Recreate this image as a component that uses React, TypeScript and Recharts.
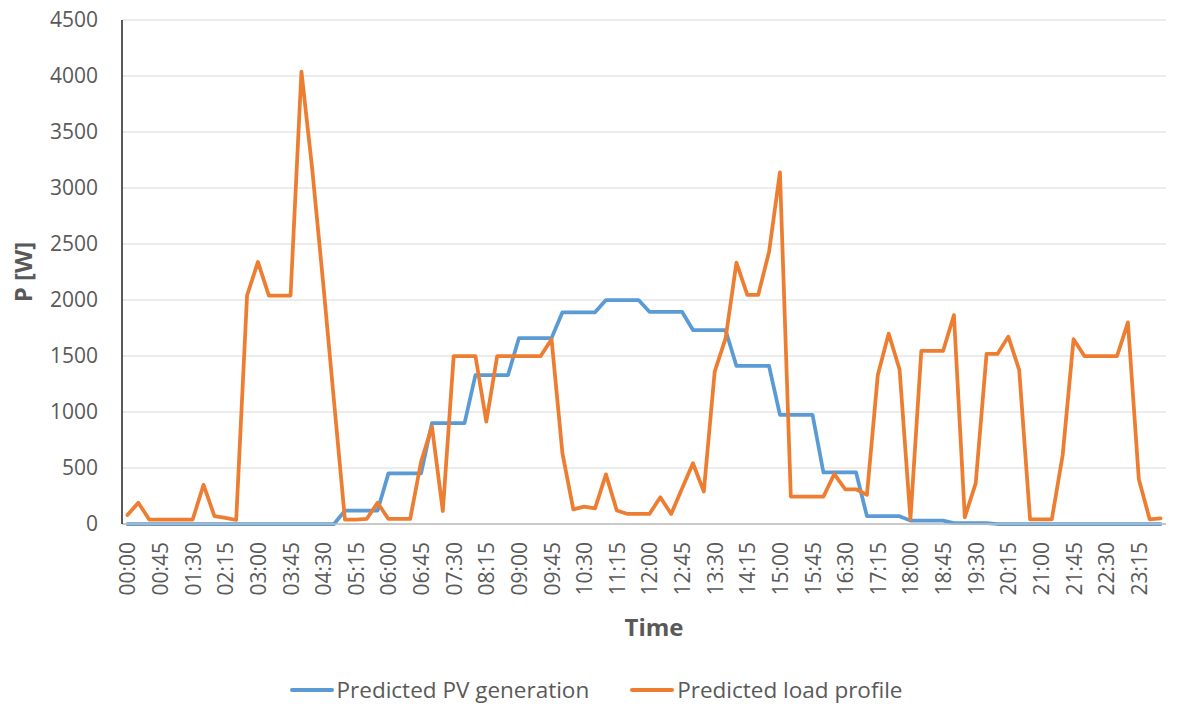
import React from 'react';
import { LineChart, Line, XAxis, YAxis, CartesianGrid, Legend } from 'recharts';

// Quarter-hour time slots over one day
const timeLabels = [
  '00:00', '00:15', '00:30', '00:45', '01:00', '01:15', '01:30', '01:45',
  '02:00', '02:15', '02:30', '02:45', '03:00', '03:15', '03:30', '03:45',
  '04:00', '04:15', '04:30', '04:45', '05:00', '05:15', '05:30', '05:45',
  '06:00', '06:15', '06:30', '06:45', '07:00', '07:15', '07:30', '07:45',
  '08:00', '08:15', '08:30', '08:45', '09:00', '09:15', '09:30', '09:45',
  '10:00', '10:15', '10:30', '10:45', '11:00', '11:15', '11:30', '11:45',
  '12:00', '12:15', '12:30', '12:45', '13:00', '13:15', '13:30', '13:45',
  '14:00', '14:15', '14:30', '14:45', '15:00', '15:15', '15:30', '15:45',
  '16:00', '16:15', '16:30', '16:45', '17:00', '17:15', '17:30', '17:45',
  '18:00', '18:15', '18:30', '18:45', '19:00', '19:15', '19:30', '19:45',
  '20:00', '20:15', '20:30', '20:45', '21:00', '21:15', '21:30', '21:45',
  '22:00', '22:15', '22:30', '22:45', '23:00', '23:15', '23:30', '23:45',
];

// Predicted PV generation [W]
const pvGeneration = [
  0, 0, 0, 0, 0, 0, 0, 0, 0, 0, 0, 0,
  0, 0, 0, 0, 0, 0, 0, 0, 120, 120, 120, 120,
  452, 452, 452, 452, 900, 900, 900, 900, 1330, 1330, 1330, 1330,
  1660, 1660, 1660, 1660, 1890, 1890, 1890, 1890, 2000, 2000, 2000, 2000,
  1895, 1895, 1895, 1895, 1732, 1732, 1732, 1732, 1411, 1411, 1411, 1411,
  975, 975, 975, 975, 460, 460, 460, 460, 70, 70, 70, 70,
  30, 30, 30, 30, 8, 8, 8, 8, 0, 0, 0, 0,
  0, 0, 0, 0, 0, 0, 0, 0, 0, 0, 0, 0,
];

// Predicted load profile [W]
const loadProfile = [
  80, 190, 40, 40, 40, 40, 40, 350, 70, 55, 36, 2040,
  2340, 2040, 2040, 2040, 4040, 3160, 2150, 1090, 40, 40, 45, 190,
  45, 45, 45, 556, 870, 116, 1500, 1500, 1500, 914, 1500, 1500,
  1500, 1500, 1500, 1650, 630, 130, 155, 140, 443, 120, 90, 90,
  90, 238, 90, 316, 542, 290, 1360, 1657, 2333, 2045, 2045, 2430,
  3140, 245, 245, 245, 245, 446, 310, 310, 260, 1330, 1700, 1380,
  42, 1545, 1545, 1545, 1865, 60, 363, 1518, 1518, 1673, 1375, 42,
  42, 42, 616, 1650, 1500, 1500, 1500, 1500, 1800, 400, 42, 50,
];

const yTicks = [0, 500, 1000, 1500, 2000, 2500, 3000, 3500, 4000, 4500];

const data = timeLabels.map((time, i) => ({
  time,
  pv: pvGeneration[i],
  load: loadProfile[i],
}));

const FONT = "'Open Sans', sans-serif";
const TEXT = '#595959';
const BLUE = '#5B9BD5';
const ORANGE = '#ED7D31';

function TimeTick(props: any) {
  const { x, y, payload } = props;
  return (
    <text
      x={x}
      y={y}
      transform={`rotate(-90, ${x}, ${y})`}
      textAnchor="end"
      dominantBaseline="central"
      fill={TEXT}
      fontSize={21}
      fontFamily={FONT}
    >
      {payload.value}
    </text>
  );
}

function YTitle(props: any) {
  const vb = props.viewBox;
  const x = vb.x + 32;
  const y = vb.y + vb.height / 2;
  return (
    <text
      x={x}
      y={y}
      transform={`rotate(-90, ${x}, ${y})`}
      textAnchor="middle"
      fill={TEXT}
      fontSize={24}
      fontWeight="bold"
      fontFamily={FONT}
    >
      P [W]
    </text>
  );
}

function XTitle(props: any) {
  const vb = props.viewBox;
  return (
    <text
      x={vb.x + vb.width / 2 + 10}
      y={vb.y + 112}
      textAnchor="middle"
      fill={TEXT}
      fontSize={24}
      fontWeight="bold"
      fontFamily={FONT}
    >
      Time
    </text>
  );
}

function LegendContent(props: any) {
  const items = props.payload || [];
  return (
    <div
      style={{
        display: 'flex',
        justifyContent: 'center',
        alignItems: 'center',
        gap: 40,
        paddingLeft: 10,
        fontFamily: FONT,
        fontSize: 22.5,
        color: TEXT,
        lineHeight: '30px',
      }}
    >
      {items.map((it: any) => (
        <div key={it.value} style={{ display: 'flex', alignItems: 'center' }}>
          <svg width={46} height={8} style={{ display: 'block' }}>
            <line x1={3} y1={4} x2={43} y2={4} stroke={it.color} strokeWidth={4} strokeLinecap="round" />
          </svg>
          <span style={{ marginLeft: 2 }}>{it.value}</span>
        </div>
      ))}
    </div>
  );
}

export default function App() {
  return (
    <div style={{ position: 'absolute', left: 0, top: 0, width: 1181, height: 704, background: '#fff' }}>
      <LineChart width={1181} height={704} data={data} margin={{ top: 20, right: 15, bottom: 0, left: 0 }}>
        <CartesianGrid vertical={false} stroke="#d9d9d9" strokeWidth={1} />
        <XAxis
          dataKey="time"
          height={180}
          interval={2}
          padding={{ left: 5.44, right: 5.44 }}
          tickLine={false}
          tickSize={0}
          tickMargin={18}
          axisLine={{ stroke: '#bfbfbf', strokeWidth: 1.5 }}
          tick={<TimeTick />}
          label={(p: any) => <XTitle {...p} />}
        />
        <XAxis
          xAxisId="top"
          dataKey="time"
          orientation="top"
          height={0}
          tick={false}
          tickLine={false}
          axisLine={{ stroke: '#262626', strokeWidth: 2 }}
        />
        <YAxis
          width={122}
          domain={[0, 4500]}
          ticks={yTicks}
          tickLine={false}
          tickSize={0}
          tickMargin={24}
          axisLine={{ stroke: '#000', strokeWidth: 1.3 }}
          tick={{ fill: TEXT, fontSize: 21, fontFamily: FONT }}
          label={(p: any) => <YTitle {...p} />}
        />
        <Legend
          layout="horizontal"
          align="center"
          verticalAlign="middle"
          wrapperStyle={{ top: 675, left: 0, width: 1181, height: 30 }}
          content={<LegendContent />}
        />
        <Line
          type="linear"
          dataKey="pv"
          name="Predicted PV generation"
          stroke={BLUE}
          strokeWidth={3.75}
          strokeLinejoin="round"
          strokeLinecap="round"
          dot={false}
          activeDot={false}
          isAnimationActive={false}
        />
        <Line
          type="linear"
          dataKey="load"
          name="Predicted load profile"
          stroke={ORANGE}
          strokeWidth={3.75}
          strokeLinejoin="round"
          strokeLinecap="round"
          dot={false}
          activeDot={false}
          isAnimationActive={false}
        />
      </LineChart>
    </div>
  );
}
